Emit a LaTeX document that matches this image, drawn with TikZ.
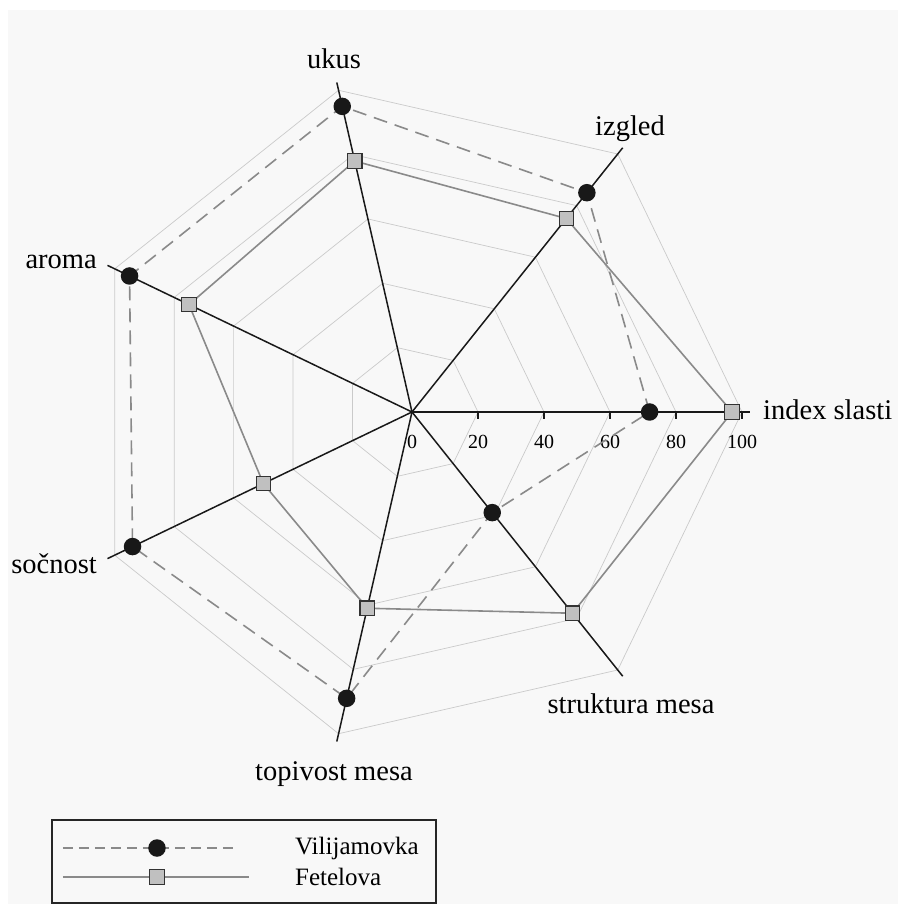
\documentclass[tikz,border=0pt]{standalone}
\usepackage{fontspec}
\setmainfont{Liberation Serif}
\usepackage{tikz}

\definecolor{bgcol}{HTML}{F8F8F8}
\definecolor{gridcol}{HTML}{CACACA}
\definecolor{datacol}{HTML}{8A8A8A}
\definecolor{sqcol}{HTML}{C0C0C0}
\definecolor{dotcol}{HTML}{181818}

\tikzset{
  gridline/.style={draw=gridcol, line width=0.7pt},
  axisline/.style={draw=black!90, line width=1.5pt},
  vilija/.style={draw=datacol, line width=1.6pt, dash pattern=on 14pt off 8pt},
  fetel/.style={draw=datacol, line width=1.6pt},
  dotmark/.style={circle, fill=dotcol, inner sep=0pt, minimum size=17.5pt},
  sqmark/.style={rectangle, fill=sqcol, draw=black!80, line width=1.1pt, inner sep=0pt, minimum size=14.5pt},
  axlabel/.style={font=\fontsize{28.5}{30}\selectfont, inner sep=0pt},
  ticklabel/.style={font=\fontsize{20}{22}\selectfont, inner sep=0pt},
  leglabel/.style={font=\fontsize{25}{27}\selectfont, inner sep=0pt, anchor=west},
}

\begin{document}
\begin{tikzpicture}[x=1pt, y=1pt]
  \useasboundingbox (-412,-492) rectangle (486,412);
  \fill[bgcol] (-404,-492) rectangle (486,402);

  % grid rings
  \foreach \v in {20,40,60,80,100} {
    \draw[gridline] (0:3.3*\v) \foreach \k in {1,...,6} { -- (\k*360/7:3.3*\v) } -- cycle;
  }

  % axes
  \coordinate (o) at (0,0);
  \foreach \i in {0,...,6} {
    \coordinate (ax\i) at (\i*360/7:338);
    \draw[axisline] (o) -- (ax\i);
  }
  \foreach \v in {20,40,60,80,100}
    \draw[axisline, line width=1.1pt] (3.3*\v,0) -- (3.3*\v,-7);
  \foreach \v in {0,20,40,60,80,100}
    \node[ticklabel] (t\v) at (3.3*\v,-30) {\v};

  % data
  \foreach \i/\v in {0/72, 1/85, 2/95, 3/95, 4/94, 5/89, 6/39}
    \coordinate (v\i) at (\i*360/7:3.3*\v);
  \foreach \i/\v in {0/97, 1/75, 2/78, 3/75, 4/50, 5/61, 6/78}
    \coordinate (f\i) at (\i*360/7:3.3*\v);

  \draw[vilija] (v0) -- (v1) -- (v2) -- (v3) -- (v4) -- (v5) -- (v6) -- cycle;
  \draw[fetel] (f0) -- (f1) -- (f2) -- (f3) -- (f4) -- (f5) -- (f6) -- cycle;

  \foreach \i in {0,...,6} {
    \node[dotmark] (dv\i) at (v\i) {};
    \node[sqmark] (sf\i) at (f\i) {};
  }

  % axis labels
  \node[axlabel, anchor=base west] (lindex) at (351,-8) {index slasti};
  \node[axlabel, anchor=base] (lizgled) at (218,276) {izgled};
  \node[axlabel, anchor=base] (lukus) at (-78,343) {ukus};
  \node[axlabel, anchor=base east] (laroma) at (-315,143) {aroma};
  \node[axlabel, anchor=base east] (lsocnost) at (-315,-161) {sočnost};
  \node[axlabel, anchor=base] (ltopiv) at (-78,-368) {topivost mesa};
  \node[axlabel, anchor=base] (lstrukt) at (219,-301) {struktura mesa};

  % legend
  \draw[black!85, line width=1.4pt] (-360,-408) rectangle (24,-491);
  \coordinate (lv1) at (-349,-436);
  \coordinate (lv2) at (-177,-436);
  \coordinate (lf1) at (-349,-465);
  \coordinate (lf2) at (-163,-465);
  \draw[vilija, dash pattern=on 10pt off 6pt] (lv1) -- (lv2);
  \draw[fetel, line width=1.2pt] (lf1) -- (lf2);
  \node[dotmark] (legdot) at (-255,-436) {};
  \node[sqmark] (legsq) at (-255,-465) {};
  \node[leglabel] (legv) at (-117,-436) {Vilijamovka};
  \node[leglabel] (legf) at (-117,-465) {Fetelova};
\end{tikzpicture}
\end{document}
